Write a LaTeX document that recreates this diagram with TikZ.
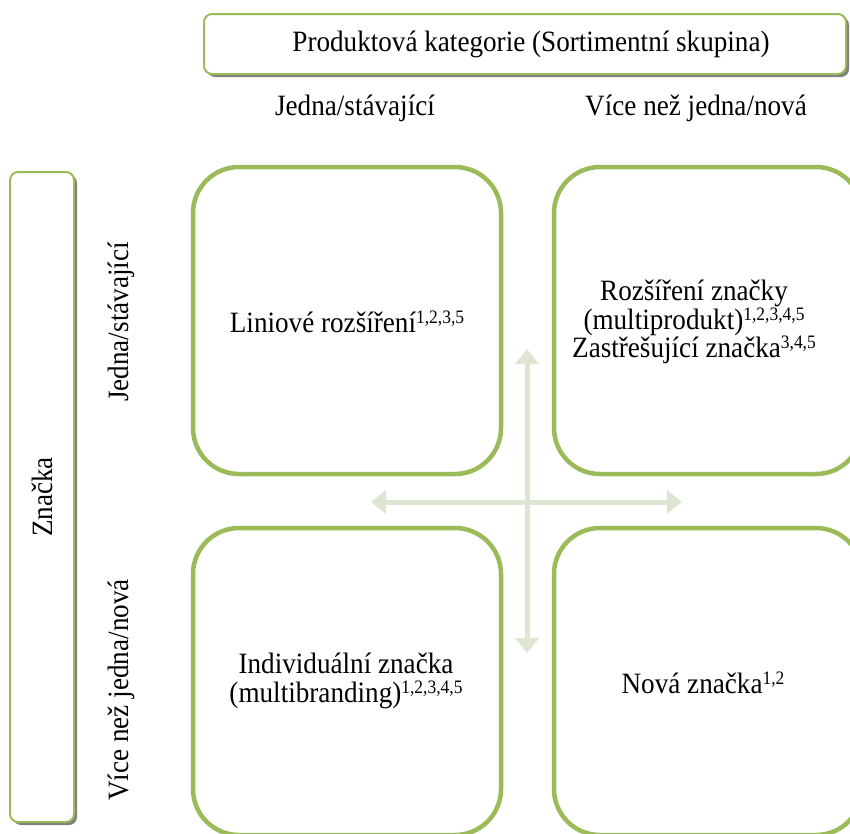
\documentclass[tikz,border=0pt]{standalone}
\usepackage{fontspec}
\setmainfont{Liberation Serif}[FakeStretch=0.92]
\usetikzlibrary{arrows.meta}
\definecolor{boxgreen}{HTML}{9BBB59}
\definecolor{arrowgreen}{HTML}{DCE6D0}
\definecolor{shadowgray}{HTML}{808080}
\newcommand{\supidx}[1]{\raisebox{0.3em}{\fontsize{19}{19}\selectfont #1}}
\tikzset{
  txt/.style={font=\fontsize{29.5}{28.5}\selectfont, inner sep=0pt, align=center},
  quad/.style={draw=boxgreen, line width=4.5pt, rounded corners=46pt, fill=white},
  headbox/.style={draw=boxgreen, line width=2pt, rounded corners=8pt, fill=white},
  headshadow/.style={fill=shadowgray, rounded corners=8pt},
  dblarrow/.style={draw=arrowgreen, line width=5pt,
    {Triangle[width=23pt,length=15pt]}-{Triangle[width=23pt,length=15pt]}}
}
\begin{document}
\begin{tikzpicture}[x=1pt, y=-1pt]
\useasboundingbox (0,0) rectangle (850,833);
\clip (0,0) rectangle (850,833);
\fill[white] (0,0) rectangle (850,833);

% header: product category
\fill[headshadow] (207,17) rectangle (849,77);
\draw[headbox] (204,14) rectangle (846,74);
\node[txt] (cat) at (531,44) {Produktová kategorie (Sortimentní skupina)};

% column headings
\node[txt] (col1) at (355,108) {Jedna/stávající};
\node[txt] (col2) at (696,108) {Více než jedna/nová};

% side box: brand
\fill[headshadow] (13,175) rectangle (77,825);
\draw[headbox] (10,172) rectangle (74,822);
\node[txt, rotate=90] (brand) at (42,497) {Značka};

% row headings
\node[txt, rotate=90] (row1) at (121,322) {Jedna/stávající};
\node[txt, rotate=90] (row2) at (121,690) {Více než jedna/nová};

% four quadrants
\draw[quad] (193,167) rectangle (501,474);
\draw[quad] (554,167) rectangle (862,474);
\draw[quad] (193,528) rectangle (501,835);
\draw[quad] (554,528) rectangle (862,835);

\node[txt] (q1) at (347,322) {Liniové rozšíření\supidx{1,2,3,5}};
\node[txt] (q2) at (694,322) {Rozšíření značky\\(multiprodukt)\supidx{1,2,3,4,5}\\Zastřešující značka\supidx{3,4,5}};
\node[txt] (q3) at (346,681) {Individuální značka\\(multibranding)\supidx{1,2,3,4,5}};
\node[txt] (q4) at (703,683) {Nová značka\supidx{1,2}};

% crossing double arrows
\coordinate (hl) at (371,502);
\coordinate (hr) at (682,502);
\coordinate (vt) at (527,349);
\coordinate (vb) at (527,653);
\draw[dblarrow] (hl) -- (hr);
\draw[dblarrow] (vt) -- (vb);
\end{tikzpicture}
\end{document}
